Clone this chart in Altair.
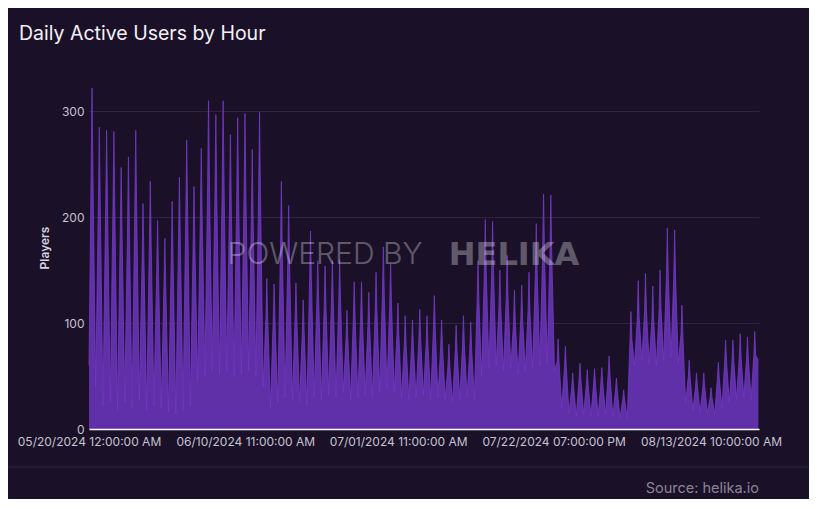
import altair as alt
import pandas as pd

# ---- data (one value set per day) ----
START = "2024-05-20"
END = "2024-08-20"
# daily top spike
peak = [322, 285, 282, 281, 247, 257, 282, 213, 234, 197,
        180, 215, 238, 273, 229, 265, 310, 297, 310, 278,
        294, 298, 264, 299, 142, 137, 234, 211, 138, 122,
        187, 159, 154, 159, 160, 112, 139, 139, 129, 148,
        172, 156, 119, 107, 103, 113, 107, 126, 103, 80,
        98, 107, 101, 159, 198, 196, 150, 164, 131, 136,
        148, 194, 222, 221, 85, 78, 53, 62, 56, 57,
        58, 69, 48, 37, 111, 140, 147, 135, 150, 190,
        188, 117, 65, 53, 53, 39, 63, 84, 84, 90,
        87, 92]
# level on either side of the spike
shoulder = [240, 215, 210, 210, 185, 190, 210, 160, 175, 148,
            135, 160, 178, 205, 172, 200, 232, 222, 232, 208,
            220, 222, 198, 224, 105, 102, 170, 158, 103, 92,
            140, 120, 115, 120, 120, 85, 104, 104, 97, 110,
            128, 117, 90, 80, 78, 85, 80, 95, 78, 60,
            74, 80, 76, 120, 150, 148, 115, 124, 100, 104,
            112, 146, 168, 166, 64, 58, 40, 47, 42, 43,
            44, 52, 36, 28, 85, 106, 112, 103, 114, 145,
            142, 90, 49, 40, 40, 30, 48, 64, 64, 68,
            66, 70]
# nightly trough
low = [40, 22, 25, 18, 25, 20, 28, 18, 22, 20,
       16, 14, 18, 22, 45, 50, 55, 52, 55, 50,
       52, 55, 50, 40, 20, 25, 30, 28, 25, 22,
       30, 28, 32, 30, 35, 28, 30, 32, 30, 35,
       38, 35, 30, 28, 30, 32, 28, 30, 28, 25,
       28, 30, 28, 50, 58, 60, 55, 58, 52, 55,
       58, 60, 62, 55, 20, 15, 12, 14, 12, 12,
       14, 12, 10, 10, 60, 65, 62, 60, 65, 68,
       62, 25, 18, 16, 15, 14, 20, 25, 28, 30,
       28, 65]
first_value = 60
tick_times = ["2024-05-20 00:00", "2024-06-10 11:00", "2024-07-01 11:00",
              "2024-07-22 19:00", "2024-08-13 10:00"]
y_ticks = [0, 100, 200, 300]


def ms(ts):
    t = pd.Timestamp(ts)
    if t.tzinfo is None:
        t = t.tz_localize("UTC")
    return int(t.value // 10**6)


start = pd.Timestamp(START, tz="UTC")
rows = [{"t": ms(start), "v": first_value}]
for i in range(len(peak)):
    day = start + pd.Timedelta(days=i)
    for h, v in ((7, shoulder[i]), (10, peak[i]), (13, shoulder[i]), (22, low[i])):
        rows.append({"t": ms(day + pd.Timedelta(hours=h)), "v": v})
df = pd.DataFrame(rows)

BG = "#1a1129"
FILL = "#6030a8"
LINE = "#7538c4"
LABEL = "#c6c2cf"
FONT = "Inter"

x = alt.X("t:T",
          scale=alt.Scale(type="utc", domain=[ms(START), ms(END)]),
          axis=alt.Axis(values=[ms(t) for t in tick_times],
                        labelExpr="utcFormat(datum.value, '%m/%d/%Y %I:%M:%S %p')",
                        title=None, grid=False, ticks=False,
                        domainColor="#ffffff", domainWidth=1.5,
                        labelColor=LABEL, labelFont=FONT, labelFontSize=12,
                        labelPadding=7, labelFlush=False, labelOverlap=False,
                        zindex=1))
y = alt.Y("v:Q",
          scale=alt.Scale(domain=[0, 323], nice=False, zero=True),
          axis=alt.Axis(values=y_ticks, title="Players", titleX=-38, titleY=160.5,
                        titleFont=FONT, titleFontSize=12, titleFontWeight=600,
                        titleColor="#d6d2dc", titleAngle=270,
                        gridColor="#2c2442", gridWidth=1, domain=False, ticks=False,
                        labelColor=LABEL, labelFont=FONT, labelFontSize=12,
                        labelPadding=5))

area = alt.Chart(df).mark_area(
    color=FILL, opacity=1, fillOpacity=1, interpolate="linear",
    line={"color": LINE, "strokeWidth": 0.8, "opacity": 1},
).encode(x=x, y=y)


def text_layer(txt, px, py, **kw):
    return alt.Chart(alt.Data(values=[{"label": txt}])).mark_text(**kw).encode(
        x=alt.value(px), y=alt.value(py), text="label:N")


title = text_layer("Daily Active Users by Hour", -70, -47, align="left",
                   baseline="alphabetic", font=FONT, fontSize=19.5, fontWeight=400,
                   color="#f4f2f7")
wm1 = text_layer("POWERED BY", 236, 168, align="center", baseline="middle",
                 font=FONT, fontSize=30, fontWeight=300, color="#ffffff", opacity=0.3)
wm2 = text_layer("HELIKA", 425, 168, align="center", baseline="middle",
                 font="DejaVu Sans", fontSize=32, fontWeight="bold", color="#ffffff",
                 opacity=0.3)
source = text_layer("Source: helika.io", 670, 406, align="right", baseline="alphabetic",
                    font=FONT, fontSize=14.5, color="#8a8595")
divider = alt.Chart(alt.Data(values=[{"a": 1}])).mark_rule(
    color="#2e2547", strokeWidth=1).encode(
    x=alt.value(-90), x2=alt.value(740), y=alt.value(380))

chart = alt.layer(area, divider, wm1, wm2, title, source).properties(
    width=670, height=342, background=BG,
    padding={"left": 81, "top": 79, "right": 50, "bottom": 70},
    autosize=alt.AutoSizeParams(type="none"),
).configure_view(stroke=None)

chart.save("out.html", embed_options={"renderer": "svg", "actions": False})
